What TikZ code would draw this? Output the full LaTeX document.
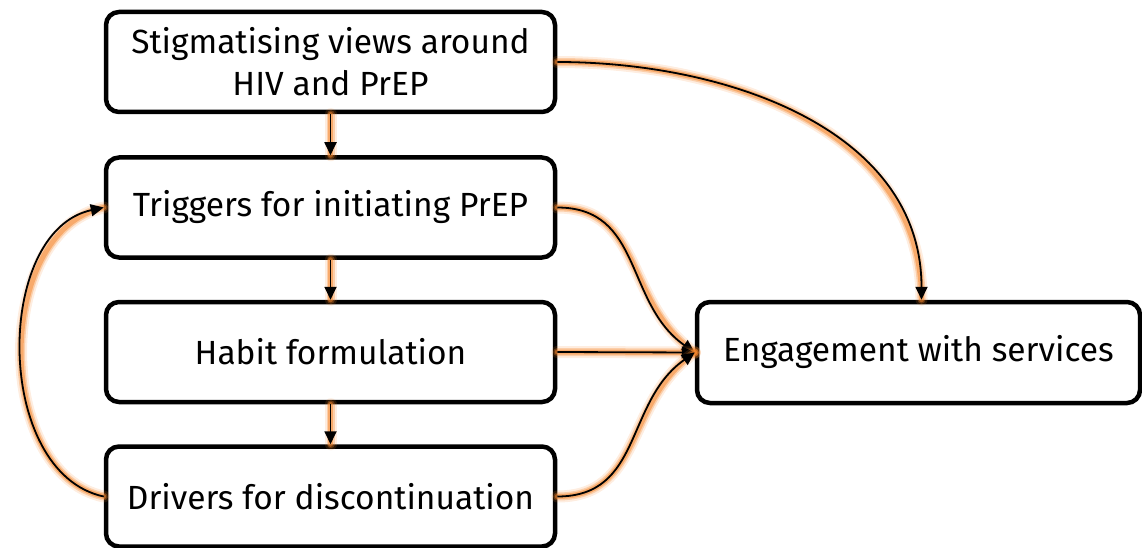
\documentclass[tikz,border=0pt]{standalone}
\usepackage{fontspec}
\setmainfont{Fira Sans}
\usetikzlibrary{arrows.meta}
\definecolor{glowc}{RGB}{245,135,45}
\tikzset{
  box/.style={draw=black, line width=4.5pt, rounded corners=13pt, fill=white,
    minimum width=449pt, minimum height=100pt, inner sep=0pt, align=center,
    font=\fontsize{33.5}{42}\selectfont},
  conn/.style={draw=black, line width=1.8pt, -{Triangle[length=13pt,width=12pt]},
    preaction={draw=glowc, line width=12pt, opacity=.15, arrows=-, line cap=round},
    preaction={draw=glowc, line width=8pt, opacity=.3, arrows=-, line cap=round},
    preaction={draw=glowc, line width=5pt, opacity=.5, arrows=-, line cap=round}},
}
\begin{document}
\begin{tikzpicture}[x=1pt,y=-1pt]
\useasboundingbox (0,0) rectangle (1142,548);
\node[box] (s) at (330.5,62) {Stigmatising views around\\HIV and PrEP};
\node[box] (t) at (330.5,207.5) {Triggers for initiating PrEP};
\node[box] (h) at (330.5,352) {Habit formulation};
\node[box] (d) at (330.5,496.5) {Drivers for discontinuation};
\node[box, minimum width=443pt, minimum height=101pt] (e) at (918.5,352.5) {Engagement with services};
\coordinate (etop) at ([xshift=3pt]e.north);
\draw[conn] (s.south) -- (t.north);
\draw[conn] (t.south) -- (h.north);
\draw[conn] (h.south) -- (d.north);
\draw[conn] (s.east) to[out=0,in=90] (etop);
\draw[conn] (t.east) to[out=0,in=145,looseness=1.1] (e.west);
\draw[conn] (h.east) -- (e.west);
\draw[conn] (d.east) to[out=0,in=215,looseness=1.1] (e.west);
\draw[conn] (d.west) to[out=168,in=192,looseness=1.0] (t.west);
\end{tikzpicture}
\end{document}
